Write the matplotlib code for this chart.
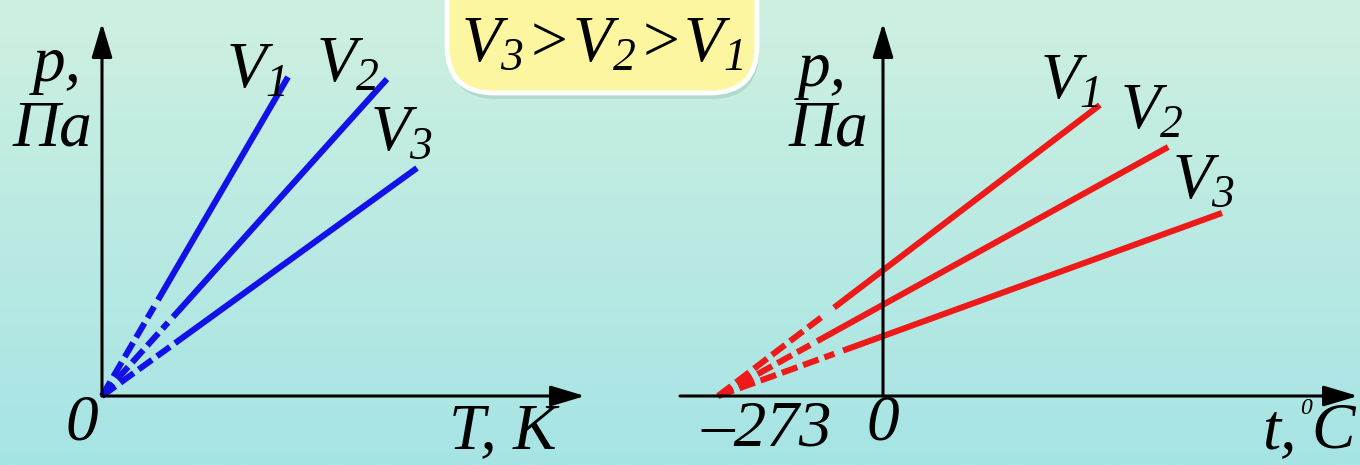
import numpy as np
import matplotlib.pyplot as plt
from matplotlib.patches import FancyBboxPatch

plt.rcParams['font.family'] = ['Liberation Serif', 'DejaVu Serif']
plt.rcParams['mathtext.fontset'] = 'custom'
plt.rcParams['mathtext.it'] = 'Liberation Serif:italic'
plt.rcParams['mathtext.rm'] = 'Liberation Serif:italic'

# isochores, p ~ T (left, kelvin) and p ~ t + 273 (right, celsius), schematic units
labels = ['$V_1$', '$V_2$', '$V_3$']
T_end = [186, 285, 315]          # K, end of each line
p_end_T = [319, 317, 228]        # Pa at T_end
T_solid = [56, 71, 73]           # where the measured (solid) part starts

t_zero = -273                    # absolute zero, °C
t_end = [359, 472, 561]
p_end_t = [291, 249, 183]
t_solid = [-81, -109, -66]

W, H = 1360, 465
fig = plt.figure(figsize=(W / 100, H / 100), dpi=100)

# background gradient
bg = fig.add_axes([0, 0, 1, 1], zorder=-10)
top = np.array([206, 240, 224]) / 255
bot = np.array([166, 228, 229]) / 255
g = np.linspace(0, 1, 256)[:, None]
grad = (top[None, :] * (1 - g) + bot[None, :] * g)[:, None, :]
bg.imshow(grad, aspect='auto', extent=[0, 1, 0, 1])
bg.axis('off')

blue = '#1212e8'
red = '#ee1a1a'
FS = 47
LW = 4.4


def axes_px(x0, x1, y_top, y_base):
    return fig.add_axes([x0 / W, (H - y_base) / H, (x1 - x0) / W, (y_base - y_top) / H])


def draw_axes(ax, x0, x1, y1, yx):
    kw = dict(arrowstyle='-|>,head_length=1.5,head_width=0.45', color='k', lw=2.2,
              shrinkA=0, shrinkB=0, mutation_scale=14)
    ax.annotate('', xy=(x1, 0), xytext=(x0, 0), arrowprops=kw, annotation_clip=False)
    ax.annotate('', xy=(yx, y1), xytext=(yx, 0), arrowprops=kw, annotation_clip=False)
    ax.set_xlim(x0, x1)
    ax.set_ylim(0, y1)
    ax.axis('off')


def isochore(ax, x0, xs, xe, pe, color):
    k = pe / (xe - x0)
    gap = 0.07 * (xs - x0)
    xd = xs - gap
    ax.plot([x0, xd], [0, k * (xd - x0)], color=color, lw=LW, ls=(0, (2.7, 1.0)),
            dash_capstyle='butt', clip_on=False)
    ax.plot([xs, xe], [k * (xs - x0), pe], color=color, lw=LW,
            solid_capstyle='butt', clip_on=False)


txt = dict(fontsize=FS, style='italic', ha='center', va='center', clip_on=False)

# left panel: p(T)
ax1 = axes_px(102, 585, 23, 396)
draw_axes(ax1, 0, 483, 373, 0)
for i in range(3):
    isochore(ax1, 0, T_solid[i], T_end[i], p_end_T[i], blue)
ax1.text(-45, 331, 'p,', **txt)
ax1.text(-50, 266, 'Па', **txt)
ax1.text(-20, -28, '0', **txt)
ax1.text(401, -36, 'T, K', **txt)
for lab, (x, y) in zip(labels, [(154, 325), (246, 331), (300, 262)]):
    ax1.text(x, y, lab, **txt)

# right panel: p(t)
sc = 1.655  # °C per px
ax2 = axes_px(680, 1358, 23, 396)
draw_axes(ax2, (680 - 883) * sc, (1358 - 883) * sc, 373, 0)
for i in range(3):
    isochore(ax2, t_zero, t_solid[i], t_end[i], p_end_t[i], red)
ax2.text(-100, 326, 'p,', **txt)
ax2.text(-90, 266, 'Па', **txt)
ax2.text(0, -28, '0', **txt)
ax2.text((767 - 883) * sc, -34, '–273', **txt)
# axis title "t, °C" written with a small raised zero, as in the source
ax2.text((1297 - 883) * sc, -36, 't,', **{**txt, 'ha': 'right'})
ax2.text((1306 - 883) * sc, -12, '0', **{**txt, 'fontsize': 17})
ax2.text((1311 - 883) * sc, -36, 'C', **{**txt, 'ha': 'left'})
for lab, (x, y) in zip(labels, [((1070 - 883) * sc, 314), ((1152 - 883) * sc, 284),
                                ((1204 - 883) * sc, 214)]):
    ax2.text(x, y, lab, **txt)

# yellow note box (top runs off the picture)
shadow = FancyBboxPatch((449 / W, (H - 99) / H), 310 / W, 160 / H,
                        boxstyle='round,pad=0,rounding_size=0.035',
                        transform=fig.transFigure, fc='#86b8a8', ec='none', alpha=0.35,
                        mutation_aspect=W / H, zorder=1)
box = FancyBboxPatch((447 / W, (H - 93) / H), 310 / W, 160 / H,
                     boxstyle='round,pad=0,rounding_size=0.035',
                     transform=fig.transFigure, fc='#fdf6a0', ec='white', lw=3.5,
                     mutation_aspect=W / H, zorder=2)
fig.add_artist(shadow)
fig.add_artist(box)
fig.text(602 / W, (H - 45) / H, '$V_3\\!>\\!V_2\\!>\\!V_1$', fontsize=FS, ha='center',
         va='center', zorder=3)

fig.savefig('out.png', dpi=100)
plt.close(fig)
